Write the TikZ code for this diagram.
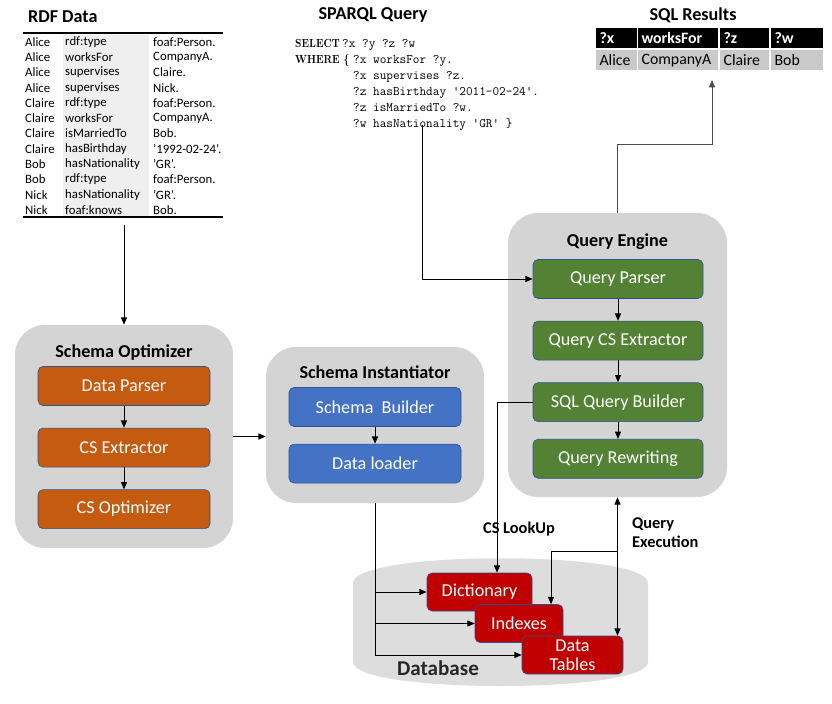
\documentclass[tikz,border=0pt]{standalone}
\usepackage{fontspec}
\usepackage{graphicx}
\setsansfont{Carlito}
\usetikzlibrary{arrows.meta,positioning}

\definecolor{panelgrey}{HTML}{D4D4D4}
\definecolor{dbgrey}{HTML}{DDDDDD}
\definecolor{optorange}{HTML}{C55A11}
\definecolor{instblue}{HTML}{4472C4}
\definecolor{qegreen}{HTML}{548235}
\definecolor{dbred}{HTML}{C00000}
\definecolor{boxedge}{HTML}{2F528F}
\definecolor{colgrey}{HTML}{EFEFEF}
\definecolor{rowgrey}{HTML}{C9C9C9}

\newcommand{\kw}[1]{\scalebox{0.85}[1]{\rmfamily\bfseries\fontsize{10}{11.6}\selectfont #1}}

\begin{document}
\begin{tikzpicture}[
    x=0.3mm, y=-0.3mm,
    >={Triangle[length=2.2mm,width=1.8mm]},
    node distance=6.6mm,
    panel/.style={fill=panelgrey, rounded corners=9mm, inner sep=0pt},
    box/.style={draw=boxedge, line width=0.5pt, rounded corners=1.5mm,
                minimum width=51.6mm, minimum height=11.7mm, text=white,
                font=\sffamily\fontsize{15.5}{17}\selectfont},
    dbbox/.style={box, fill=dbred, minimum height=11.4mm, inner ysep=0.3mm},
    ptitle/.style={font=\sffamily\bfseries\fontsize{15.5}{17}\selectfont},
    lbl/.style={font=\sffamily\bfseries\fontsize{14}{16.2}\selectfont},
    triple/.style={anchor=west, inner sep=0pt,
                   font=\sffamily\fontsize{10.9}{12}\selectfont},
    hcell/.style={anchor=north west, fill=black, text=white, inner xsep=1mm,
                  inner ysep=0pt, minimum height=6mm,
                  font=\sffamily\bfseries\fontsize{13.5}{15}\selectfont},
    dcell/.style={hcell, fill=rowgrey, text=black,
                  font=\sffamily\fontsize{13.5}{15}\selectfont},
    flow/.style={->, line width=0.8pt}
]
    \useasboundingbox (0,0) rectangle (832,704);

    % RDF data table
    \node[ptitle, anchor=west] (rdftitle) at (24,17) {RDF Data};
    \fill[colgrey] (63,35) rectangle (149,216);
    \draw[line width=1.6pt] (23,33) -- (223,33);
    \draw[line width=1.6pt] (23,217) -- (223,217);
    \foreach \s/\p/\o [count=\i] in {Alice/rdf:type/foaf:Person.,
        Alice/worksFor/CompanyA., Alice/supervises/Claire.,
        Alice/supervises/Nick., Claire/rdf:type/foaf:Person.,
        Claire/worksFor/CompanyA., Claire/isMarriedTo/Bob.,
        Claire/hasBirthday/'1992-02-24'., Bob/hasNationality/'GR'.,
        Bob/rdf:type/foaf:Person., Nick/hasNationality/'GR'.,
        Nick/foaf:knows/Bob.} {
        \node[triple] (s\i) at (25,{26.5+15.3*\i}) {\s};
        \node[triple] (p\i) at (65,{26.5+15.3*\i}) {\p};
        \node[triple] (o\i) at (153,{26.5+15.3*\i}) {\o};
    }
    \coordinate (rdfout) at (124,225);

    % SPARQL query
    \node[ptitle] (sparqltitle) at (373,15) {SPARQL Query};
    \node[anchor=north west, inner sep=0pt, align=left,
          font=\ttfamily\fontsize{11}{13.6}\selectfont] (sparql) at (295,39)
        {\makebox[14.1mm][l]{\kw{SELECT}}?x ?y ?z ?w\\
         \makebox[17.4mm][l]{\kw{WHERE \{}}?x worksFor ?y.\\
         \hspace*{17.4mm}?x supervises ?z.\\
         \hspace*{17.4mm}?z hasBirthday '2011-02-24'.\\
         \hspace*{17.4mm}?z isMarriedTo ?w.\\
         \hspace*{17.4mm}?w hasNationality 'GR' \}};
    \coordinate (sparqlout) at (422,125);

    % SQL results
    \node[ptitle] (sqltitle) at (693,15) {SQL Results};
    \foreach \x/\w/\h/\d [count=\i] in {596/41/?x/Alice, 638/80/worksFor/CompanyA,
        720/49/?z/Claire, 771/52/?w/Bob} {
        \node[hcell, text width={(\w-6.7)*0.3mm}] (h\i) at (\x,28) {\h};
        \node[dcell, text width={(\w-6.7)*0.3mm}] (d\i) at (\x,50) {\d};
    }
    \coordinate (resin) at (712,80);

    % panels
    \node[panel, minimum width=65.4mm, minimum height=66.9mm] (optpanel) at (124,436.5) {};
    \node[panel, minimum width=65.4mm, minimum height=46.8mm] (sipanel) at (375,425) {};
    \node[panel, minimum width=65.7mm, minimum height=85.2mm] (qepanel) at (617.5,355) {};

    \node[ptitle] (opttitle) at (124,353) {Schema Optimizer};
    \node[ptitle] (sititle) at (375,372) {Schema Instantiator};
    \node[ptitle] (qetitle) at (617.5,242) {Query Engine};

    \node[box, fill=optorange] (dparser) at (124,386) {Data Parser};
    \node[box, fill=optorange, below=of dparser] (csext) {CS Extractor};
    \node[box, fill=optorange, below=of csext] (csopt) {CS Optimizer};

    \node[box, fill=instblue] (sbuild) at (375,407) {Schema\ \ Builder};
    \node[box, fill=instblue, below=5.1mm of sbuild] (dload) {Data loader};

    \node[box, fill=qegreen, minimum width=51mm] (qparse) at (618,279) {Query Parser};
    \node[box, fill=qegreen, minimum width=51mm, below=of qparse] (qcsext) {Query CS Extractor};
    \node[box, fill=qegreen, minimum width=51mm, below=of qcsext] (sqlb) {SQL Query Builder};
    \node[box, fill=qegreen, minimum width=51mm, below=5.1mm of sqlb] (qrew) {Query Rewriting};

    % database
    \fill[dbgrey] (353,583) .. controls (353,550) and (648,550) .. (648,583)
        -- (648,662) .. controls (648,694) and (353,694) .. (353,662) -- cycle;
    \node[dbbox, minimum width=31.5mm] (dict) at (479.5,592) {Dictionary};
    \node[dbbox, minimum width=26.4mm] (idx) at (519,623.5) {Indexes};
    \node[dbbox, minimum width=30.3mm, align=center,
          font=\sffamily\fontsize{15.5}{16.5}\selectfont] (dtab) at (572.5,655) {Data\\Tables};
    \node[font=\sffamily\bfseries\fontsize{18}{20}\selectfont, text=black!85]
        (dblabel) at (438,668) {Database};

    % connectors
    \draw[flow] (rdfout) -- (optpanel.north);
    \draw[flow] (dparser) -- (csext);
    \draw[flow] (csext) -- (csopt);
    \draw[flow] (optpanel.east) -- (optpanel.east -| sipanel.west);
    \draw[flow] (sbuild) -- (dload);
    \draw[flow] (qparse) -- (qcsext);
    \draw[flow] (qcsext) -- (sqlb);
    \draw[flow] (sqlb) -- (qrew);
    \draw[flow] (sparqlout) |- (qparse.west);
    \draw[flow, draw=black!70] (qepanel.north) -- ++(0,-68) -| (resin);

    \draw[flow] (sipanel.south) |- (dtab.west);
    \draw[flow] (sipanel.south |- dict.west) -- (dict.west);
    \draw[flow] (sipanel.south |- idx.west) -- (idx.west);
    \draw[flow] (sqlb.west) -| ([xshift=5.25mm]dict.north);
    \node[lbl] (lookup) at (519,529) {CS LookUp};

    \coordinate (qexec) at (qepanel.south |- 0,551);
    \draw[<->, line width=0.8pt] (qepanel.south) -- (qepanel.south |- dtab.north);
    \draw[flow] (qexec) -| ([xshift=9.6mm]idx.north);
    \node[lbl, align=left, anchor=west] (qexlabel) at (628,533) {Query\\Execution};
\end{tikzpicture}
\end{document}
